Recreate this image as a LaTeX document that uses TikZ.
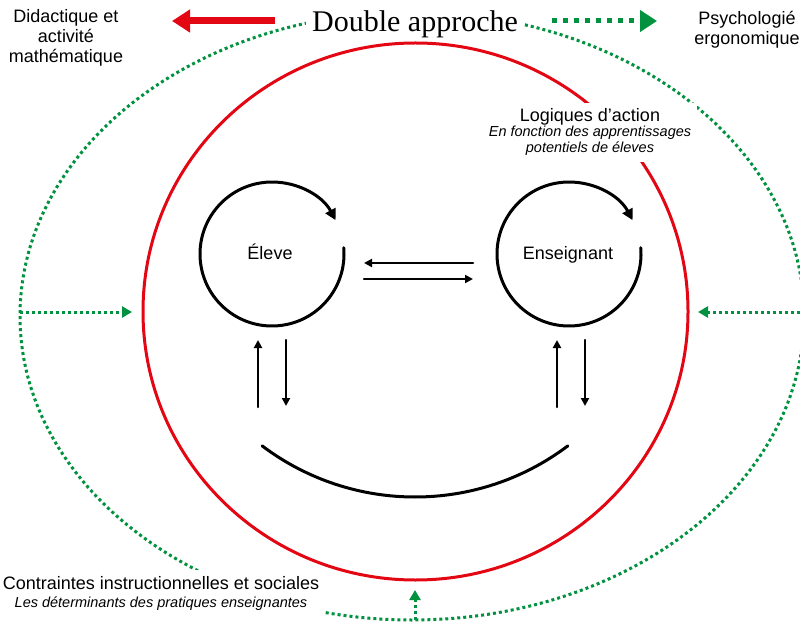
\documentclass[tikz,border=0pt]{standalone}
\usepackage{fontspec}
\setmainfont{Liberation Sans}
\newfontfamily\titlefont{Liberation Serif}
\usetikzlibrary{arrows.meta}
\definecolor{rouge}{RGB}{227,6,19}
\definecolor{vert}{RGB}{0,146,63}
\tikzset{
	pointille/.style={vert,line width=3pt,line cap=butt,dash pattern=on 3pt off 3pt},
	fleche/.style={line width=2.5pt,->},
	boucle/.style={line width=3pt,-{Triangle[length=11pt,width=11pt]}},
	texte/.style={fill=white,inner sep=6pt,align=center}
}
\begin{document}
\begin{tikzpicture}[x=1pt,y=1pt,line
	join=round,line
	cap=round,font=\fontsize{18}{20}\selectfont,>={Triangle[length=8pt,width=8pt]}]
	\useasboundingbox (0,0) rectangle (800,622);
	\def\r{72}
	\def\R{254}
	\path (412,306) coordinate (O)
	(415.5,310.5) coordinate (C)
	(272,368) coordinate (E)
	(569,368) coordinate (S)
	(415,379) coordinate (M)
	(20,310) coordinate (G1) (132,310) coordinate (G2)
	(800,310) coordinate (D1) (698,310) coordinate (D2)
	(415,2) coordinate (B1) (415,32) coordinate (B2)
	(275,601) coordinate (R1) (172,601) coordinate (R2)
	(552,601) coordinate (V1) (657,601) coordinate (V2)
	(473,359) coordinate (H1) (364,359) coordinate (H2)
	(364,343) coordinate (H3) (473,343) coordinate (H4)
	(258,215) coordinate (A1) (258,282) coordinate (A2)
	(286,282) coordinate (A3) (286,216) coordinate (A4)
	(557,215) coordinate (A5) (557,282) coordinate (A6)
	(585,282) coordinate (A7) (585,216) coordinate (A8);
	\draw[pointille] (O) ellipse [x radius=392,y radius=304];
	\draw[rouge,line width=3pt] (C) ellipse [x radius=272.5,y radius=268.5];
	\node[texte,anchor=base,inner xsep=6pt,inner ysep=2pt,
	font=\titlefont\fontsize{30}{32}\selectfont] (titre) at (415,590) {Double approche};
	\draw[rouge,line width=7pt,line cap=butt,-{Triangle[length=18pt,width=22pt]}] (R1)--(R2);
	\draw[vert,line width=5pt,line cap=butt,dash pattern=on 5pt off 6pt,
	-{Triangle[length=17pt,width=21pt]}] (V1)--(V2);
	\node[anchor=base,align=center] (didactique) at (66,559) {Didactique et\\activité\\mathématique};
	\node[anchor=base,align=center] (psycho) at (747,577) {Psychologié\\ergonomique};
	\node[texte,anchor=base] (logiques) at (590,469) {Logiques d’action\\[-5pt]
		{\itshape\fontsize{14.5}{16}\selectfont En fonction des apprentissages}\\[-4pt]
		{\itshape\fontsize{14.5}{16}\selectfont potentiels de éleves}};
	\node[texte,anchor=base] (contraintes) at (161,15) {Contraintes instructionnelles et sociales\\[-2pt]
		{\itshape\fontsize{14.5}{16}\selectfont Les déterminants des pratiques enseignantes}};
	\draw[pointille,-{Triangle[length=10pt,width=11pt]}] (G1)--(G2);
	\draw[pointille,-{Triangle[length=10pt,width=11pt]}] (D1)--(D2);
	\draw[pointille,-{Triangle[length=10pt,width=11pt]}] (B1)--(B2);
	\node[anchor=base] (eleve) at (270,362) {Éleve};
	\node[anchor=base] (enseignant) at (568,362) {Enseignant};
	\draw[boucle] (E) ++(5:\r) arc (5:-332:\r);
	\draw[boucle] (S) ++(5:\r) arc (5:-332:\r);
	\draw[fleche] (H1)--(H2);
	\draw[fleche] (H3)--(H4);
	\draw[fleche] (A1)--(A2);
	\draw[fleche] (A3)--(A4);
	\draw[fleche] (A5)--(A6);
	\draw[fleche] (A7)--(A8);
	\draw[line width=3pt] (M) ++(-127:\R) arc (-127:-53:\R);
\end{tikzpicture}
\end{document}
